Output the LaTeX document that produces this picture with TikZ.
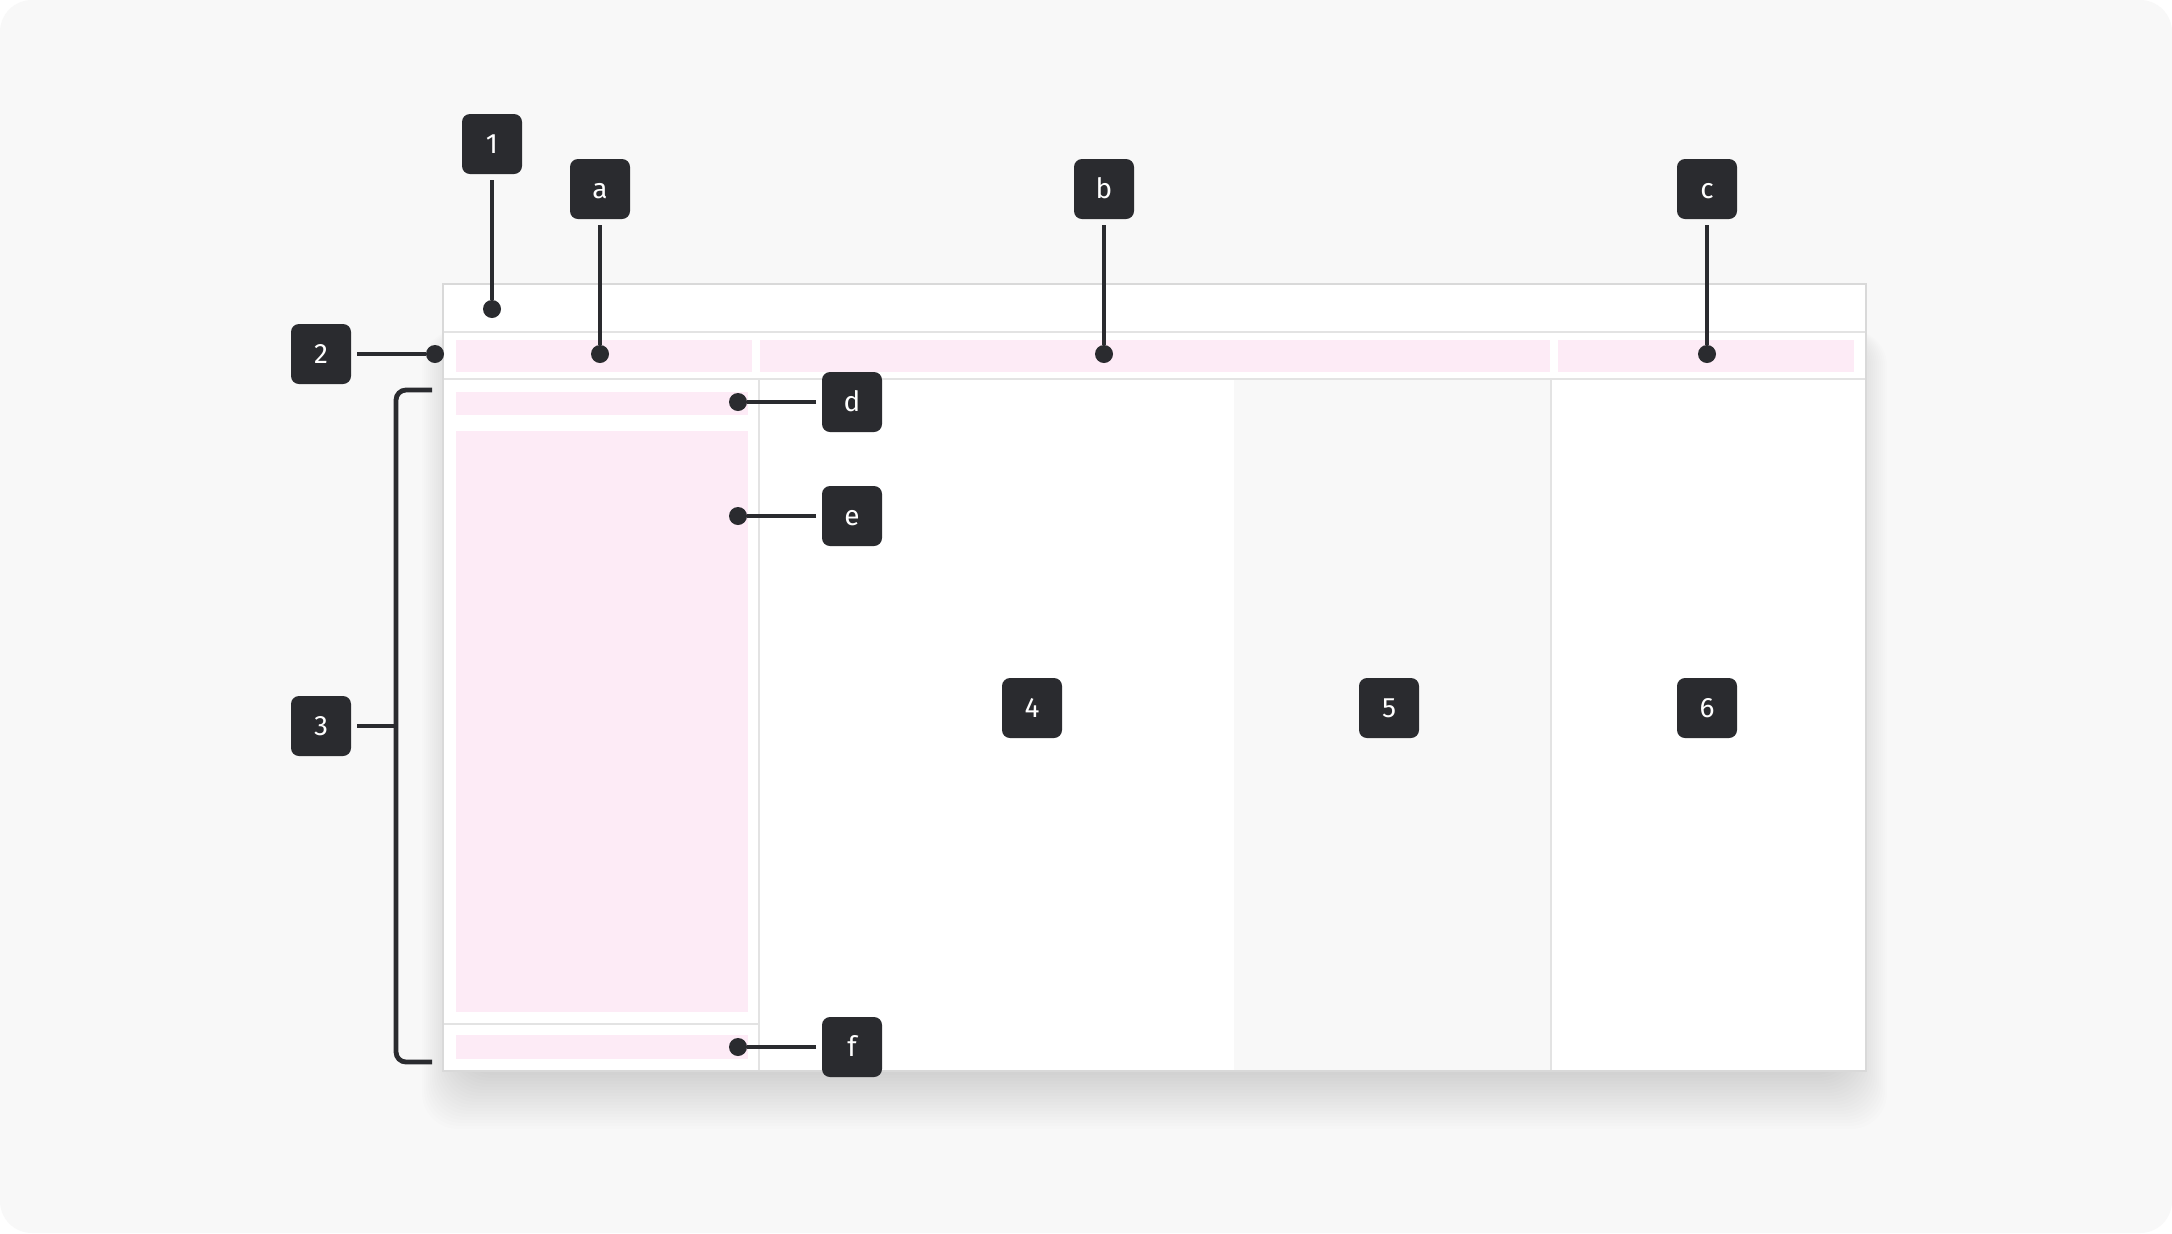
\documentclass[tikz,border=0pt]{standalone}
\usepackage{fontspec}
\setmainfont{Fira Sans}
\usetikzlibrary{positioning}
\definecolor{canvas}{HTML}{F8F8F8}
\definecolor{ink}{HTML}{2A2B2F}
\definecolor{blush}{HTML}{FDEBF6}
\definecolor{rule}{HTML}{E3E3E3}
\definecolor{frame}{HTML}{D9D9D9}

\begin{document}
\begin{tikzpicture}[x=0.5pt, y=-0.5pt,
	badge/.style={fill=ink, text=white, rounded corners=4pt, minimum size=30pt, inner sep=0pt, outer sep=3pt,
		text height=9.8pt, text depth=0pt, font=\fontsize{14}{14}\selectfont},
	dot/.style={circle, fill=ink, minimum size=9pt, inner sep=0pt},
	lead/.style={draw=ink, line width=2.4pt},
	slot/.style={fill=blush},
	hairline/.style={draw=rule, line width=0.7pt}]

\useasboundingbox (0,0) rectangle (2172,1233);
\fill[white] (0,0) rectangle (2172,1233);
\fill[canvas, rounded corners=16pt] (0,0) rectangle (2172,1233);

% soft shadow under the window
\foreach \k in {0,...,19}
	\fill[black, opacity=0.009, rounded corners=18pt] (460-2*\k,330) rectangle (1849+2*\k,1072+3*\k);

% window
\fill[white] (443,284) rectangle (1866,1071);
\fill[canvas] (1234,379) rectangle (1551,1071);
\draw[hairline] (443,332) -- (1866,332);
\draw[hairline] (443,379) -- (1866,379);
\draw[hairline] (759,379) -- (759,1071);
\draw[hairline] (1551,379) -- (1551,1071);
\draw[hairline] (443,1024) -- (759,1024);
\draw[draw=frame, line width=0.7pt] (443,284) rectangle (1866,1071);

% placeholders
\fill[slot] (456,340) rectangle (752,372);
\fill[slot] (760,340) rectangle (1550,372);
\fill[slot] (1558,340) rectangle (1854,372);
\fill[slot] (456,392) rectangle (748,415);
\fill[slot] (456,431) rectangle (748,1012);
\fill[slot] (456,1035) rectangle (748,1059);

% badges
\node[badge] (n1) at (492,144) {1};
\node[badge] (n2) at (321,354) {2};
\node[badge] (n3) at (321,726) {3};
\node[badge] (n4) at (1032,708) {4};
\node[badge] (n5) at (1389,708) {5};
\node[badge] (n6) at (1707,708) {6};
\node[badge] (na) at (600,189) {a};
\node[badge] (nb) at (1104,189) {b};
\node[badge] (nc) at (1707,189) {c};
\node[badge] (nd) at (852,402) {d};
\node[badge] (ne) at (852,516) {e};
\node[badge] (nf) at (852,1047) {f};

% pins
\node[dot] (p1) at (492,309) {};
\node[dot] (p2) at (435,354) {};
\node[dot] (pa) at (600,354) {};
\node[dot] (pb) at (1104,354) {};
\node[dot] (pc) at (1707,354) {};
\node[dot] (pd) at (738,402) {};
\node[dot] (pe) at (738,516) {};
\node[dot] (pf) at (738,1047) {};

\foreach \n in {1,2,a,b,c,d,e,f}
	\draw[lead] (n\n) -- (p\n);

% bracket for the sidebar
\coordinate (brtop) at (432,390);
\coordinate (brbot) at (432,1062);
\coordinate (brmid) at (396,726);
\draw[lead, rounded corners=5pt] (brtop) -- (396,390) -- (396,1062) -- (brbot);
\draw[lead] (n3) -- (brmid);

\end{tikzpicture}
\end{document}
